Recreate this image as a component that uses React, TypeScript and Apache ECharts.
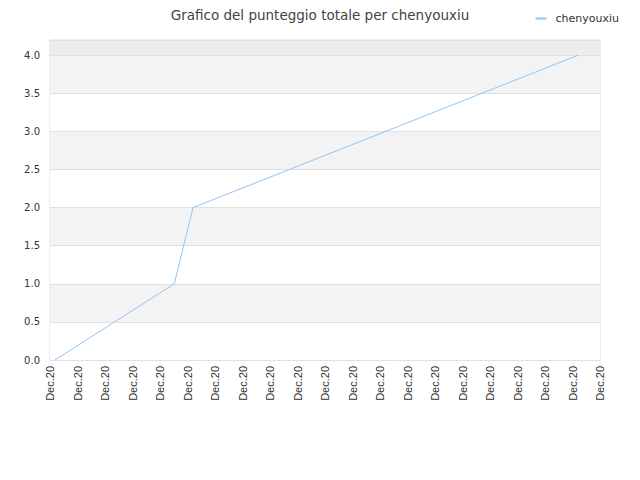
import React, { useEffect, useRef } from 'react';
import * as echarts from 'echarts';

// x in hours of the day (all ticks read "Dec.20"), y = total score
const seriesName = 'chenyouxiu';
const hours = [0.18, 4.52, 5.2, 19.2];
const scores = [0, 1, 2, 4];
const xTickLabel = 'Dec.20';

const bandColors = [
  '#ffffff', '#f3f3f3', '#ffffff', '#f3f3f3', '#ffffff',
  '#f3f3f3', '#ffffff', '#f3f3f3', '#ededed',
];

export default function App() {
  const chartRef = useRef<HTMLDivElement>(null);

  useEffect(() => {
    if (!chartRef.current) return;
    const chart = echarts.init(chartRef.current, null, { renderer: 'svg' });

    chart.setOption({
      animation: false,
      backgroundColor: '#ffffff',
      title: {
        text: 'Grafico del punteggio totale per chenyouxiu',
        left: 'center',
        top: 3,
        textStyle: {
          fontFamily: 'DejaVu Sans',
          fontSize: 13.5,
          fontWeight: 'normal',
          color: '#444',
        },
      },
      legend: {
        right: 16,
        top: 8,
        icon: 'rect',
        itemWidth: 11,
        itemHeight: 2,
        itemGap: 6,
        textStyle: {
          fontFamily: 'DejaVu Sans',
          fontSize: 11,
          color: '#333',
          padding: [0, 0, 0, 4],
        },
        data: [seriesName],
      },
      grid: {
        left: 50,
        right: 40,
        top: 40,
        bottom: 120,
        show: true,
        borderColor: '#dcdcdc',
        borderWidth: 1,
      },
      xAxis: {
        type: 'value',
        min: 0,
        max: 20,
        interval: 1,
        axisLine: { show: false },
        axisTick: { show: false },
        splitLine: { show: false },
        axisLabel: {
          rotate: 90,
          margin: 6,
          fontFamily: 'Liberation Sans',
          fontSize: 11,
          color: '#333',
          formatter: () => xTickLabel,
        },
      },
      yAxis: {
        type: 'value',
        min: 0,
        max: 4.2,
        interval: 0.5,
        axisLine: { show: false },
        axisTick: { show: false },
        splitLine: { show: true, lineStyle: { color: '#e0e0e0', width: 1 } },
        splitArea: { show: true, areaStyle: { color: bandColors } },
        axisLabel: {
          margin: 10,
          fontFamily: 'DejaVu Sans',
          fontSize: 10,
          color: '#333',
          showMaxLabel: false,
          formatter: (v: number) => (v > 4.05 ? '' : v.toFixed(1)),
        },
      },
      series: [
        {
          name: seriesName,
          type: 'line',
          showSymbol: false,
          data: hours.map((h, i) => [h, scores[i]]),
          lineStyle: { color: '#92c5f7', width: 1 },
          itemStyle: { color: '#92c5f7' },
        },
      ],
    });

    return () => {
      chart.dispose();
    };
  }, []);

  return (
    <div
      ref={chartRef}
      style={{ position: 'fixed', left: 0, top: 0, width: '640px', height: '480px' }}
    />
  );
}
